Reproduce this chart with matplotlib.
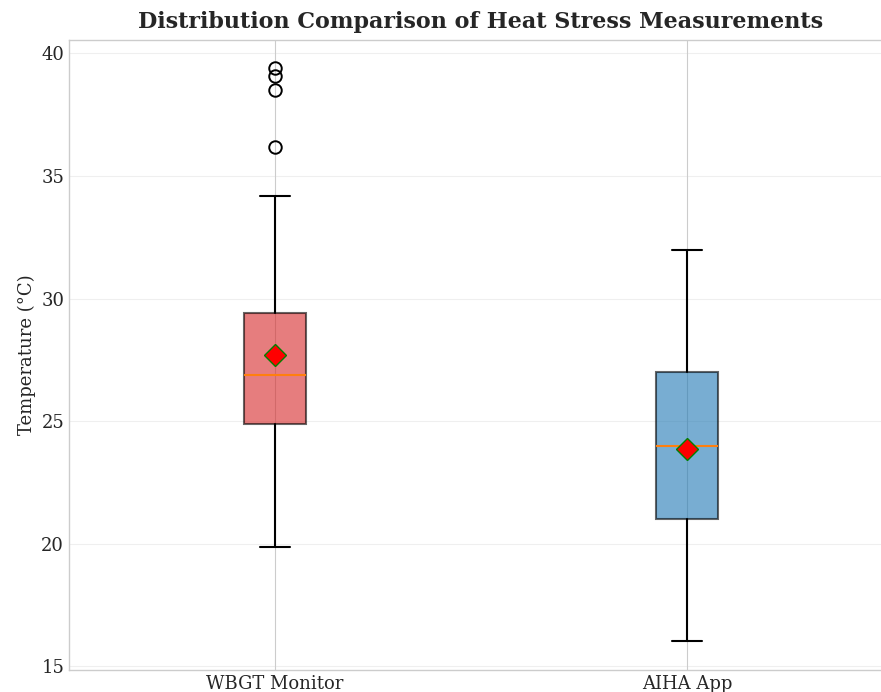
import matplotlib
matplotlib.use('Agg')
from matplotlib import pyplot as plt

# box statistics
labels = ['WBGT Monitor', 'AIHA App']
whislo = [19.85, 16.02]
q1 = [24.9, 21.03]
med = [26.9, 24.0]
q3 = [29.4, 27.0]
whishi = [34.2, 32.0]
means = [27.7, 23.85]
fliers = [[36.2, 38.5, 39.1, 39.4], []]
colors = ['#d62728', '#1f77b4']

plt.style.use('seaborn-v0_8-whitegrid')
plt.rcParams['font.family'] = 'serif'
plt.rcParams['font.serif'] = ['DejaVu Serif']

stats = []
for i in range(len(labels)):
    stats.append(dict(label=labels[i], whislo=whislo[i], q1=q1[i], med=med[i],
                      q3=q3[i], whishi=whishi[i], mean=means[i], fliers=fliers[i]))

fig = plt.figure(figsize=(8.81, 6.92), dpi=100)
ax = fig.add_axes([69 / 881, 22 / 692, 824 / 881, 630.5 / 692])

bp = ax.bxp(stats, widths=0.15, patch_artist=True, showmeans=True,
            meanprops=dict(marker='D', markerfacecolor='red', markeredgecolor='green',
                           markersize=11),
            medianprops=dict(color='C1', linewidth=1.5),
            whiskerprops=dict(color='black', linewidth=1.5),
            capprops=dict(color='black', linewidth=1.5),
            flierprops=dict(marker='o', markerfacecolor='none', markeredgecolor='black',
                            markersize=9, markeredgewidth=1.4))
for patch, c in zip(bp['boxes'], colors):
    patch.set_facecolor(c)
    patch.set_alpha(0.6)
    patch.set_linewidth(1.5)

ax.set_ylabel('Temperature (°C)', fontsize=13)
ax.set_title('Distribution Comparison of Heat Stress Measurements', fontsize=16,
             fontweight='bold', pad=8)
ax.tick_params(axis='both', labelsize=13)
ax.grid(axis='y', alpha=0.3)

fig.savefig('out.png', dpi=100)
